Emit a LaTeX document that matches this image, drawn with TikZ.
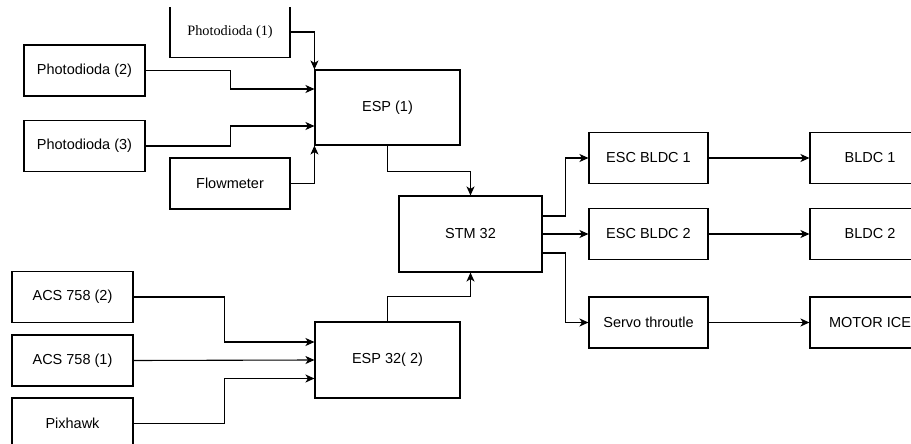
\documentclass[tikz,border=0pt]{standalone}
\usepackage{fontspec}
\setmainfont{Liberation Sans}
\newfontfamily\boxserif{Liberation Serif}
\usepackage{tikz}
\usetikzlibrary{arrows.meta}
\usetikzlibrary{positioning}

\begin{document}
\begin{tikzpicture}[x=1pt, y=-1pt]
		\useasboundingbox (0,0) rectangle (911,444);
		\clip (0,8) rectangle (911,444);
		\begin{scope}[every node/.style = {rectangle, draw, line width=1.1pt, inner sep=0pt, font=\fontsize{14.5}{16}\selectfont, minimum height=51pt}]
			\node[minimum width=120pt, font=\boxserif\fontsize{14.3}{16}\selectfont] (PD1) at (230, 32) {Photodioda (1)};
			\node[minimum width=121pt] (PD2) at (84.5, 70.5) {Photodioda (2)};
			\node[minimum width=121pt] (PD3) at (84.5, 146) {Photodioda (3)};
			\node[minimum width=120pt] (FM) at (230, 183.5) {Flowmeter};
			\node[minimum width=145pt, minimum height=75pt] (ESP1) at (387.5, 107.5) {ESP (1)};
			\node[minimum width=143pt, minimum height=76pt] (STM) at (470.5, 234) {STM 32};
			\node[minimum width=145pt, minimum height=76pt] (ESP2) at (387.5, 360) {ESP 32( 2)};
			\node[minimum width=121pt] (ACS2) at (72.5, 297) {ACS 758 (2)};
			\node[minimum width=121pt] (ACS1) at (72.5, 360.5) {ACS 758 (1)};
			\node[minimum width=121pt] (PX) at (72.5, 423.5) {Pixhawk};
			\node[minimum width=119pt] (ESC1) at (648.5, 158) {ESC BLDC 1};
			\node[minimum width=119pt] (ESC2) at (648.5, 234) {ESC BLDC 2};
			\node[minimum width=119pt] (SRV) at (648.5, 322.5) {Servo throutle};
			\node[minimum width=120pt] (B1) at (870, 158) {BLDC 1};
			\node[minimum width=120pt] (B2) at (870, 234) {BLDC 2};
			\node[minimum width=120pt] (ICE) at (870, 322.5) {MOTOR ICE};
		\end{scope}
		\begin{scope}[>={Stealth[black, length=9pt, width=8pt, inset=2.5pt]}, line width=1.1pt]
			\draw[->] (PD1.east) -| (ESP1.north west);
			\draw[->] (PD2.east) -- ++(85,0) |- ([yshift=18.5pt]ESP1.west);
			\draw[->] (PD3.east) -- ++(85,0) |- ([yshift=-18.5pt]ESP1.west);
			\draw[->] (FM.east) -| (ESP1.south west);
			\draw[->] (ESP1.south) -- ++(0,26) -| (STM.north);

			\draw[->] (ACS2.east) -- ++(91,0) |- ([yshift=18pt]ESP2.west);
			\draw[->] (ACS1.east) -- (ESP2.west);
			\draw[->] (PX.east) -- ++(91,0) |- ([yshift=-18.5pt]ESP2.west);
			\draw[->] (ESP2.north) -- ++(0,-25) -| (STM.south);

			\draw[->] ([yshift=18pt]STM.east) -- ++(23,0) |- (ESC1.west);
			\draw[->] (STM.east) -- (ESC2.west);
			\draw[->] ([yshift=-19pt]STM.east) -- ++(23,0) |- (SRV.west);
			\draw[->] (ESC1) -- (B1);
			\draw[->] (ESC2) -- (B2);
			\draw[->] (SRV) -- (ICE);

		\end{scope}
	\end{tikzpicture}
\end{document}
